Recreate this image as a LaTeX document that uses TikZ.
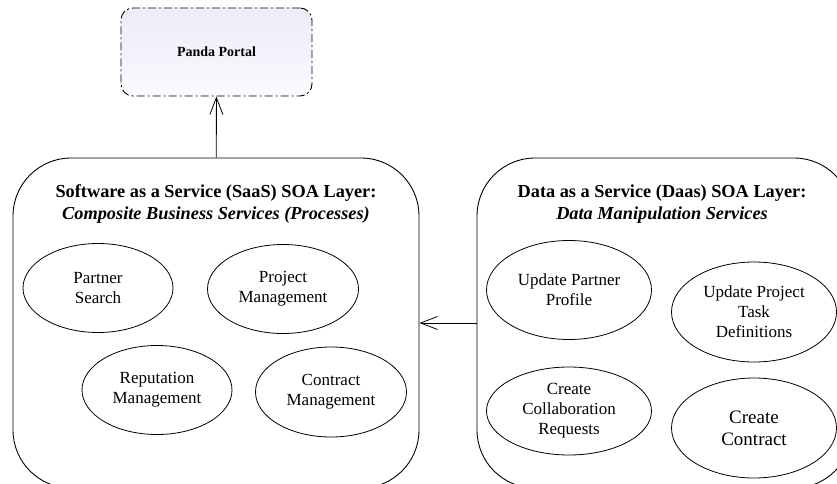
\documentclass[tikz,border=0pt]{standalone}
\usepackage{fontspec}
\setmainfont{LiberationSerif}[Extension=.ttf, UprightFont=*-Regular, BoldFont=*-Bold, ItalicFont=*-Italic, BoldItalicFont=*-BoldItalic]
\usetikzlibrary{shapes.geometric, arrows.meta}

\begin{document}
\begin{tikzpicture}[x=1pt, y=-1pt,
		layer/.style = {draw, line width=0.9pt, rounded corners=58pt, inner sep=0pt, minimum height=330pt},
		title/.style = {align=center, font=\rmfamily\bfseries\fontsize{18.3}{22}\selectfont},
		svc/.style = {draw, ellipse, line width=0.8pt, inner sep=0pt, align=center, font=\rmfamily\mdseries\fontsize{17}{20}\selectfont},
		link/.style = {line width=0.8pt, -{Straight Barb[length=17pt, width=13pt]}}]
		\useasboundingbox (0,0) rectangle (837,484);
		\node[draw, line width=0.9pt, rounded corners=12pt, dash pattern=on 8pt off 3pt on 2pt off 3pt,
			top color={rgb,255:red,236;green,236;blue,250}, bottom color={rgb,255:red,250;green,250;blue,255},
			minimum width=191pt, minimum height=88pt, font=\rmfamily\bfseries\fontsize{14}{16}\selectfont] at (216.5,52) (portal) {Panda Portal};
		% SaaS layer
		\node[layer, minimum width=406pt] at (216,323) (saas) {};
		\node[title] at (216,204) (saastitle) {Software as a Service (SaaS) SOA Layer:\\ \textit{Composite Business Services (Processes)}};
		\node[svc, minimum width=150pt, minimum height=89pt] at (98,288) (search) {Partner\\Search};
		\node[svc, minimum width=151pt, minimum height=89pt] at (283,289) (project) {Project\\Management};
		\node[svc, minimum width=150pt, minimum height=89pt] at (157,390) (reputation) {Reputation\\Management};
		\node[svc, minimum width=151pt, minimum height=90pt] at (331,392) (contract) {Contract\\Management};
		% DaaS layer
		\node[layer, minimum width=375pt] at (664.5,323) (daas) {};
		\node[title] at (662,204) (daastitle) {Data as a Service (Daas) SOA Layer:\\ \textit{Data Manipulation Services}};
		\node[svc, minimum width=165pt, minimum height=99pt] at (569,290) (profile) {Update Partner\\Profile};
		\node[svc, minimum width=165pt, minimum height=100pt] at (754,312) (tasks) {Update Project\\Task\\Definitions};
		\node[svc, minimum width=165pt, minimum height=88pt] at (569,411) (requests) {Create\\Collaboration\\Requests};
		\node[svc, minimum width=165pt, minimum height=100pt, font=\rmfamily\fontsize{19}{22}\selectfont] at (754,428) (newcontract) {Create\\Contract};
		\draw[link] (saas) -- (portal);
		\draw[link] (daas) -- (saas);
\end{tikzpicture}
\end{document}
